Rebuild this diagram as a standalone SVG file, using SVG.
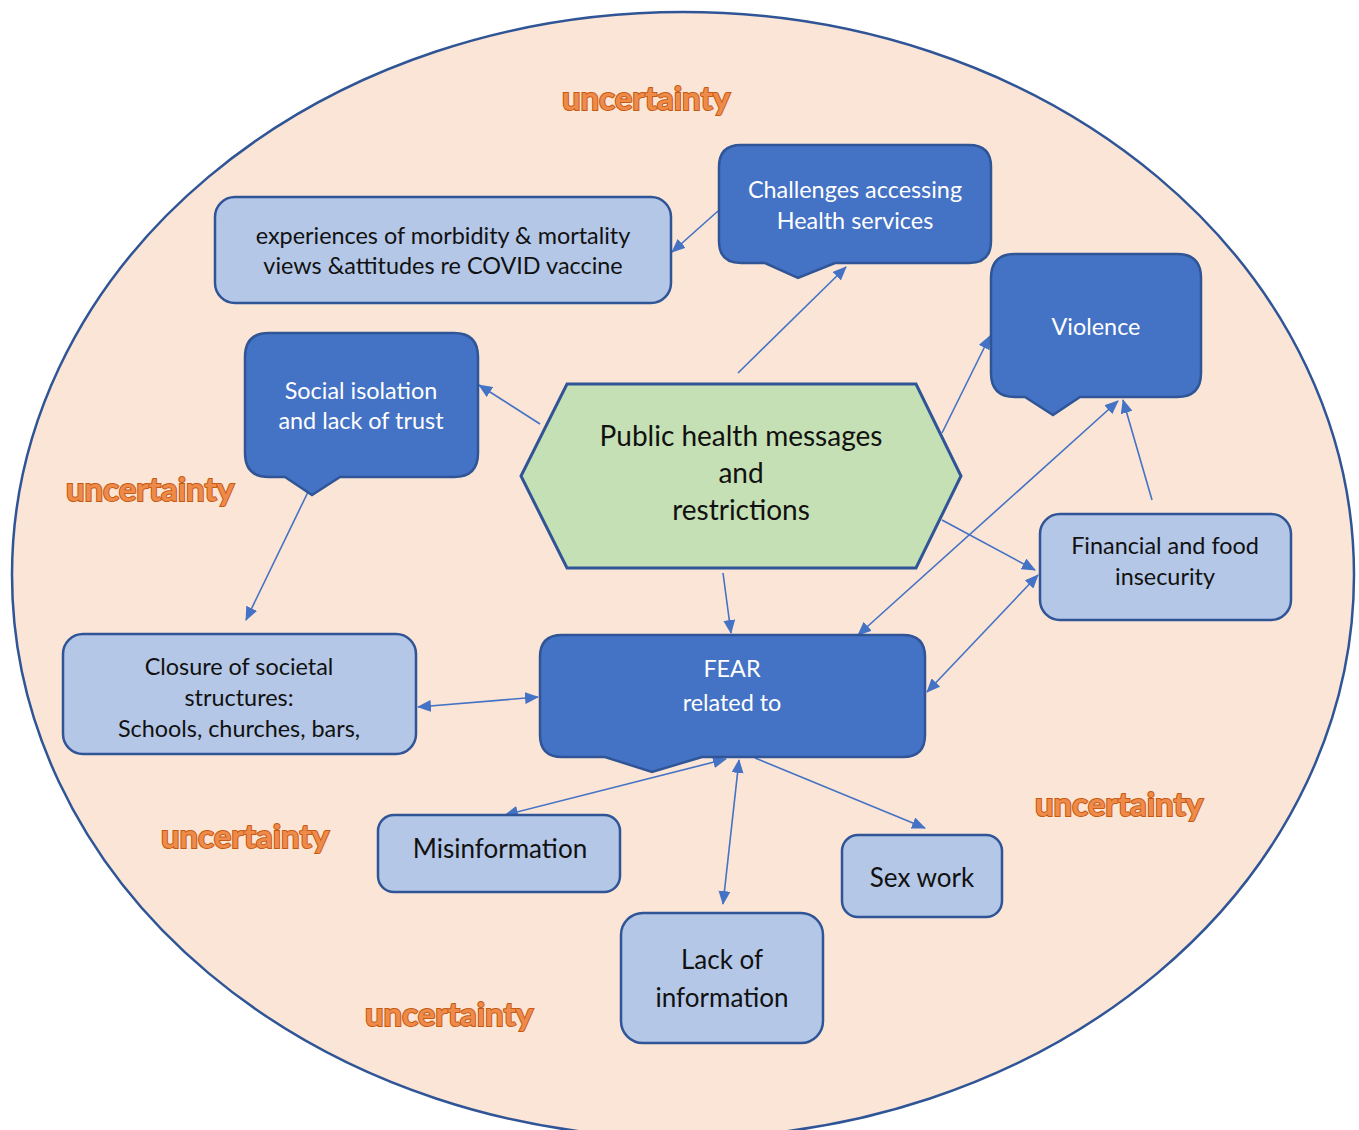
<svg xmlns="http://www.w3.org/2000/svg" width="1359" height="1130" viewBox="0 0 1359 1130">
<defs>
<marker id="ah" viewBox="0 0 14 12" refX="13" refY="6" markerWidth="14" markerHeight="12" markerUnits="userSpaceOnUse" orient="auto-start-reverse">
<path d="M0,0 L14,6 L0,12 Z" fill="#4472C4"/>
</marker>
<style>
.light{fill:#B4C7E7;stroke:#2F5597;stroke-width:2.5}
.dark{fill:#4472C4;stroke:#2F5597;stroke-width:2.5}
.hex{fill:#C5E0B4;stroke:#2F5597;stroke-width:3}
.t{font-family:"Lato","Open Sans","Liberation Sans",sans-serif;text-anchor:middle;font-size:23.4px}
.bk{fill:#111}
.wh{fill:#fff}
.big{font-size:26px}
.hx{font-size:28px}
.unc{font-family:"Lato","Liberation Sans",sans-serif;font-weight:bold;font-size:33px;text-anchor:middle;fill:#EE8A4A;stroke:#C55A11;stroke-width:2;paint-order:stroke}
.c line{stroke:#4472C4;stroke-width:1.6;fill:none}
</style>
</defs>
<rect width="1359" height="1130" fill="#fff"/>
<ellipse cx="683" cy="575" rx="671" ry="563" fill="#FBE5D6" stroke="#2F5597" stroke-width="2.5"/>

<g id="uncertainty-labels">
<text class="unc" x="646" y="110">uncertainty</text>
<text class="unc" x="150" y="501">uncertainty</text>
<text class="unc" x="245" y="848">uncertainty</text>
<text class="unc" x="1119" y="816">uncertainty</text>
<text class="unc" x="449" y="1026">uncertainty</text>
</g>

<g class="c" id="connectors">
<line x1="718" y1="211" x2="672" y2="252" marker-end="url(#ah)"/>
<line x1="738" y1="373" x2="846" y2="267" marker-end="url(#ah)"/>
<line x1="540" y1="424" x2="479" y2="385" marker-end="url(#ah)"/>
<line x1="942" y1="433" x2="990" y2="336" marker-end="url(#ah)"/>
<line x1="942" y1="520" x2="1035" y2="570" marker-end="url(#ah)"/>
<line x1="723" y1="573" x2="731" y2="633" marker-end="url(#ah)"/>
<line x1="1152" y1="500" x2="1123" y2="400" marker-end="url(#ah)"/>
<line x1="858" y1="635" x2="1118" y2="401" marker-start="url(#ah)" marker-end="url(#ah)"/>
<line x1="927" y1="692" x2="1038" y2="575" marker-start="url(#ah)" marker-end="url(#ah)"/>
<line x1="308" y1="492" x2="246" y2="620" marker-end="url(#ah)"/>
<line x1="418" y1="707" x2="538" y2="697" marker-start="url(#ah)" marker-end="url(#ah)"/>
<line x1="726" y1="759" x2="505" y2="815" marker-start="url(#ah)" marker-end="url(#ah)"/>
<line x1="739" y1="760" x2="723" y2="904" marker-start="url(#ah)" marker-end="url(#ah)"/>
<line x1="755" y1="758" x2="925" y2="828" marker-end="url(#ah)"/>
</g>

<g id="experiences">
<rect class="light" x="215" y="197" width="456" height="106" rx="20"/>
<text class="t bk" x="443" y="244">experiences of morbidity &amp; mortality</text>
<text class="t bk" x="443" y="274">views &amp;attitudes re COVID vaccine</text>
</g>

<g id="challenges">
<path class="dark" d="M741,145 H969 Q991,145 991,167 V241 Q991,263 969,263 H835 L798,278 L765,263 H741 Q719,263 719,241 V167 Q719,145 741,145 Z"/>
<text class="t wh" x="855" y="198">Challenges accessing</text>
<text class="t wh" x="855" y="229">Health services</text>
</g>

<g id="violence">
<path class="dark" d="M1015,254 H1177 Q1201,254 1201,278 V373 Q1201,397 1177,397 H1080 L1053,415 L1025,397 H1015 Q991,397 991,373 V278 Q991,254 1015,254 Z"/>
<text class="t wh" x="1096" y="335">Violence</text>
</g>

<g id="social-isolation">
<path class="dark" d="M269,333 H454 Q478,333 478,357 V453 Q478,477 454,477 H340 L312,495 L285,477 H269 Q245,477 245,453 V357 Q245,333 269,333 Z"/>
<text class="t wh" x="361" y="399">Social isolation</text>
<text class="t wh" x="361" y="429">and lack of trust</text>
</g>

<g id="public-health">
<polygon class="hex" points="567,384 916,384 961,476 916,568 567,568 521,476"/>
<text class="t bk hx" x="741" y="446">Public health messages</text>
<text class="t bk hx" x="741" y="483">and</text>
<text class="t bk hx" x="741" y="520">restrictions</text>
</g>

<g id="financial">
<rect class="light" x="1040" y="514" width="251" height="106" rx="20"/>
<text class="t bk" x="1165" y="554">Financial and food</text>
<text class="t bk" x="1165" y="585">insecurity</text>
</g>

<g id="closure">
<rect class="light" x="63" y="634" width="353" height="120" rx="20"/>
<text class="t bk" x="239" y="675">Closure of societal</text>
<text class="t bk" x="239" y="706">structures:</text>
<text class="t bk" x="239" y="737">Schools, churches, bars,</text>
</g>

<g id="fear">
<path class="dark" d="M562,635 H903 Q925,635 925,657 V735 Q925,757 903,757 H702 L652,772 L605,757 H562 Q540,757 540,735 V657 Q540,635 562,635 Z"/>
<text class="t wh" x="732" y="677">FEAR</text>
<text class="t wh" x="732" y="711">related to</text>
</g>

<g id="misinformation">
<rect class="light" x="378" y="815" width="242" height="77" rx="16"/>
<text class="t bk big" x="500" y="858">Misinformation</text>
</g>

<g id="sex-work">
<rect class="light" x="842" y="835" width="160" height="82" rx="16"/>
<text class="t bk big" x="922" y="887">Sex work</text>
</g>

<g id="lack-of-information">
<rect class="light" x="621" y="913" width="202" height="130" rx="22"/>
<text class="t bk big" x="722" y="969">Lack of</text>
<text class="t bk big" x="722" y="1007">information</text>
</g>
</svg>
